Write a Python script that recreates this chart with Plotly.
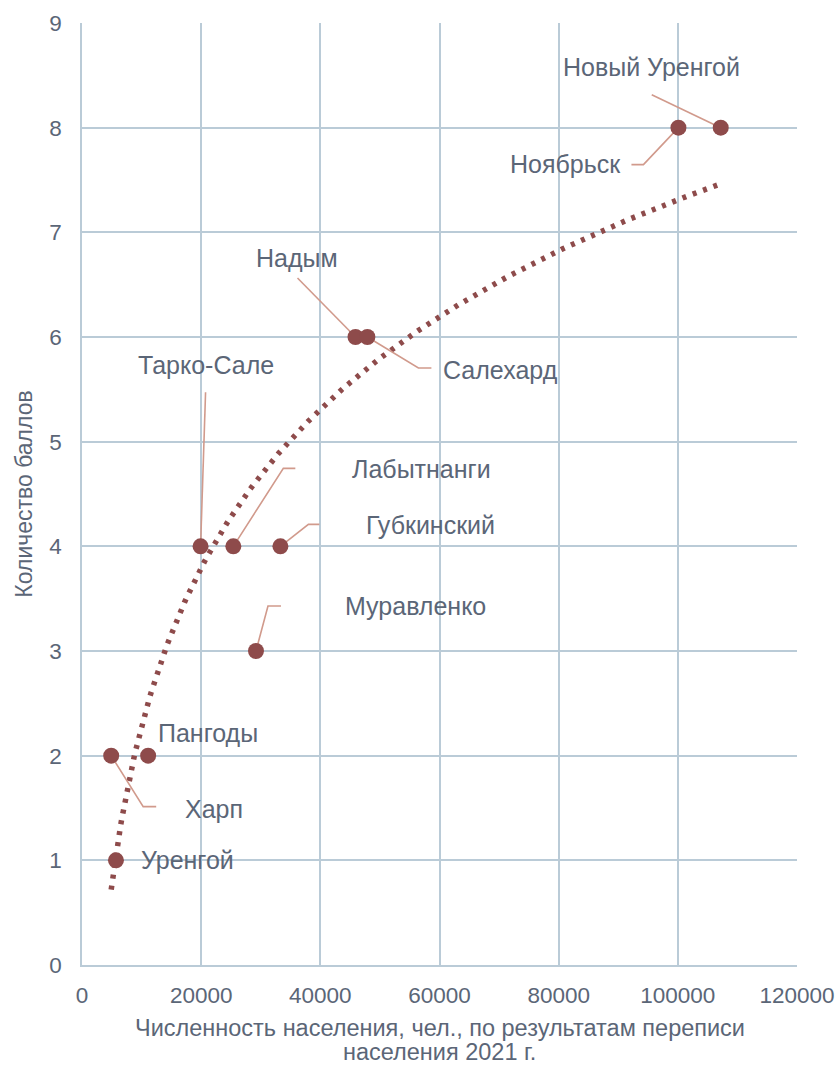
import numpy as np
import plotly.graph_objects as go

# ---- data ----
cities = ["Новый Уренгой", "Ноябрьск", "Надым", "Салехард", "Тарко-Сале",
          "Лабытнанги", "Губкинский", "Муравленко", "Пангоды", "Харп", "Уренгой"]
population = [107200, 100100, 45900, 47900, 19900, 25400, 33300, 29200, 11100, 4900, 5700]
scores = [8, 8, 6, 6, 4, 4, 4, 3, 2, 2, 1]
x_ticks = [0, 20000, 40000, 60000, 80000, 100000, 120000]
y_ticks = list(range(0, 10))
x_title_lines = ["Численность населения, чел., по результатам переписи", "населения 2021 г."]
y_title = "Количество баллов"

# ---- layout constants ----
W, H = 839, 1067
ML, MR, MT, MB = 82, 42, 23, 102
XR = (0, 120000)
YR = (0, 9)
PW = W - ML - MR
PH = H - MT - MB
SX = (XR[1] - XR[0]) / PW   # data per px
SY = (YR[1] - YR[0]) / PH

# label offsets (px, relative to the marker; +y downward) and leader paths
label_off = {
    "Новый Уренгой": ((-69, -61), [(-69, -33), (0, 0)]),
    "Ноябрьск": ((-113, 36), [(-47, 37), (-35, 37), (0, 0)]),
    "Надым": ((-58, -79), [(-58, -59), (0, 0)]),
    "Салехард": ((133, 33), [(0, 0), (51, 31), (64, 31)]),
    "Тарко-Сале": ((5, -181), [(5, -154), (0, 0)]),
    "Лабытнанги": ((188, -77), [(0, 0), (50, -78), (62, -78)]),
    "Губкинский": ((150, -21), [(0, 0), (28, -22), (39, -22)]),
    "Муравленко": ((160, -45), [(0, 0), (12, -45), (25, -45)]),
    "Пангоды": ((60, -23), []),
    "Харп": ((103, 53), [(0, 0), (32, 51), (45, 51)]),
    "Уренгой": ((72, 0), []),
}

TEXT = "#5B6677"
GRID = "#BACBD7"
MARK = "#8E4B4B"
LEAD = "#D19A8C"
FONT = "Liberation Sans, Arial, sans-serif"

fig = go.Figure()

# logarithmic trendline fitted from the data
a, b = np.polyfit(np.log(population), scores, 1)
tx = np.linspace(min(population), max(population), 400)
ty = a * np.log(tx) + b
fig.add_trace(go.Scatter(x=tx, y=ty, mode="lines",
                         line=dict(color=MARK, width=5.5, dash="4px,7px"),
                         hoverinfo="skip", showlegend=False))

# leader lines
for c, px_, sc in zip(cities, population, scores):
    path = label_off[c][1]
    if not path:
        continue
    lx = [px_ + dx * SX for dx, dy in path]
    ly = [sc - dy * SY for dx, dy in path]
    fig.add_trace(go.Scatter(x=lx, y=ly, mode="lines",
                             line=dict(color=LEAD, width=1.6),
                             hoverinfo="skip", showlegend=False))

# markers
fig.add_trace(go.Scatter(x=population, y=scores, mode="markers", text=cities,
                         marker=dict(color=MARK, size=16),
                         showlegend=False))

for c, px_, sc in zip(cities, population, scores):
    (dx, dy), _ = label_off[c]
    fig.add_annotation(x=px_, y=sc, xref="x", yref="y", text=c, showarrow=False,
                       xshift=dx, yshift=-dy,
                       font=dict(family=FONT, size=25, color=TEXT))

# x-axis title (two lines)
for i, line in enumerate(x_title_lines):
    fig.add_annotation(x=0.5, y=0, xref="paper", yref="paper", text=line,
                       showarrow=False, yanchor="middle", yshift=-63 - 24 * i,
                       font=dict(family=FONT, size=23.5, color=TEXT))

fig.update_layout(
    width=W, height=H,
    margin=dict(l=ML, r=MR, t=MT, b=MB),
    paper_bgcolor="white", plot_bgcolor="white",
    font=dict(family=FONT, color=TEXT),
)
fig.update_xaxes(range=list(XR), tickvals=x_ticks, ticktext=[str(v) for v in x_ticks],
                 automargin=False,
                 showgrid=True, gridcolor=GRID, gridwidth=1.5,
                 showline=True, linecolor=GRID, linewidth=1.5, mirror=False,
                 zeroline=False, ticks="outside", ticklen=9, tickcolor="rgba(0,0,0,0)",
                 tickfont=dict(size=22.5, color=TEXT))
fig.update_yaxes(range=list(YR), tickvals=y_ticks,
                 automargin=False,
                 showgrid=True, gridcolor=GRID, gridwidth=1.5,
                 showline=True, linecolor=GRID, linewidth=1.5,
                 zeroline=False, ticks="outside", ticklen=14, tickcolor="rgba(0,0,0,0)",
                 tickfont=dict(size=22.5, color=TEXT),
                 title=dict(text=y_title, font=dict(size=23, color=TEXT), standoff=10))

fig.write_html("out.html", config={"displayModeBar": False},
               post_script="document.body.style.margin='0';")
